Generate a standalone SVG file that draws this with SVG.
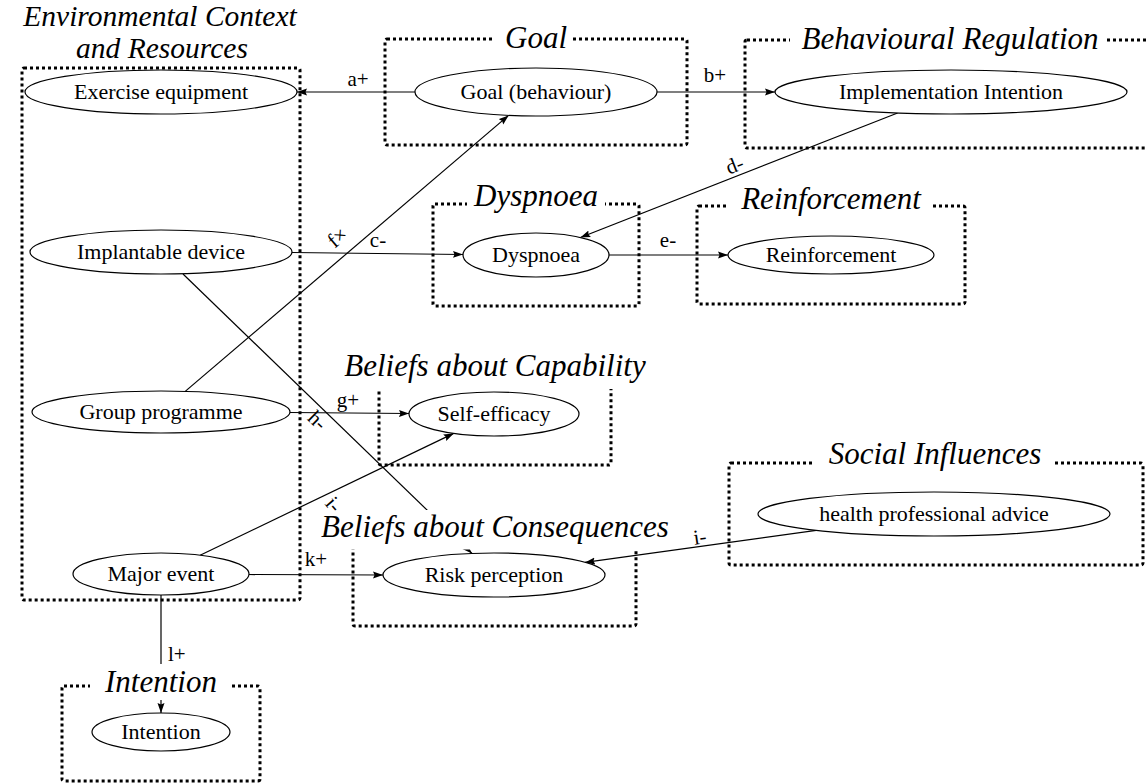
<svg xmlns="http://www.w3.org/2000/svg" width="1147" height="783" viewBox="0 0 1147 783">
<style>
.box{fill:none;stroke:#000;stroke-width:3;stroke-dasharray:3 3;}
.tbg{fill:#fff;stroke:none;}
.node ellipse{fill:#fff;stroke:#000;stroke-width:1.2;}
.edge{fill:none;stroke:#000;stroke-width:1.2;marker-end:url(#arr);}
</style>
<defs>
<marker id="arr" markerUnits="userSpaceOnUse" markerWidth="11" markerHeight="8" refX="10" refY="4" orient="auto">
<path d="M0,0.5 L10,4 L0,7.5 L1.5,4 z" fill="#000"/>
</marker>
</defs>
<rect width="1147" height="783" fill="#fff"/>
<g id="boxes">
<rect class="box" x="22" y="68" width="278" height="532" rx="2"/>
<rect class="box" x="385" y="39" width="302" height="106" rx="2"/>
<rect class="box" x="745" y="40" width="430" height="108" rx="2"/>
<rect class="box" x="433" y="204" width="206" height="102" rx="2"/>
<rect class="box" x="697" y="206" width="268" height="98" rx="2"/>
<rect class="box" x="379" y="376" width="232" height="89" rx="2"/>
<rect class="box" x="729" y="463" width="414" height="102" rx="2"/>
<rect class="box" x="353" y="537" width="283" height="89" rx="2"/>
<rect class="box" x="62" y="686" width="198" height="95" rx="2"/>
</g>
<g id="connectors">
<line class="edge" x1="415" y1="92" x2="297" y2="92"/>
<line class="edge" x1="657" y1="92" x2="775" y2="92"/>
<line class="edge" x1="292" y1="252.5" x2="463" y2="254.5"/>
<line class="edge" x1="897.6" y1="113" x2="580.4" y2="237.5"/>
<line class="edge" x1="609" y1="255" x2="728" y2="255"/>
<line class="edge" x1="185.2" y1="391.4" x2="508.6" y2="115.4"/>
<line class="edge" x1="290" y1="412.5" x2="409" y2="413.5"/>
<line class="edge" x1="183" y1="274" x2="472" y2="553.5"/>
<line class="edge" x1="200.1" y1="555.2" x2="453.7" y2="433.4"/>
<line class="edge" x1="816.2" y1="530.3" x2="585" y2="562.4"/>
<line class="edge" x1="249" y1="574.5" x2="383" y2="575"/>
<line class="edge" x1="161" y1="595" x2="161" y2="713"/>
</g>
<g id="titles" fill="#000" text-anchor="middle">
<text font-family="Liberation Serif" font-style="italic" font-size="29.5" x="160" y="26">Environmental Context</text>
<text font-family="Liberation Serif" font-style="italic" font-size="29.5" x="162" y="58">and Resources</text>
<rect class="tbg" x="495" y="20" width="78" height="32"/>
<text font-family="Liberation Serif" font-style="italic" font-size="31" x="536" y="48">Goal</text>
<rect class="tbg" x="790" y="22" width="315" height="32"/>
<text font-family="Liberation Serif" font-style="italic" font-size="31" x="950" y="49">Behavioural Regulation</text>
<rect class="tbg" x="467" y="182" width="138" height="30"/>
<text font-family="Liberation Serif" font-style="italic" font-size="31" x="536" y="206">Dyspnoea</text>
<rect class="tbg" x="728" y="186" width="202" height="28"/>
<text font-family="Liberation Serif" font-style="italic" font-size="31" x="831" y="209">Reinforcement</text>
<rect class="tbg" x="338" y="350" width="314" height="39"/>
<text font-family="Liberation Serif" font-style="italic" font-size="31" x="495" y="376">Beliefs about Capability</text>
<rect class="tbg" x="813" y="440" width="240" height="30"/>
<text font-family="Liberation Serif" font-style="italic" font-size="31" x="935" y="464">Social Influences</text>
<rect class="tbg" x="318" y="510" width="352" height="39.5"/>
<text font-family="Liberation Serif" font-style="italic" font-size="31" x="495" y="537">Beliefs about Consequences</text>
<rect class="tbg" x="90" y="664" width="140" height="36"/>
<text font-family="Liberation Serif" font-style="italic" font-size="31" x="161" y="692">Intention</text>
</g>
<g id="n-exercise" class="node"><ellipse cx="161" cy="92" rx="136" ry="22"/><text font-family="Liberation Serif" font-size="22" text-anchor="middle" x="161" y="99">Exercise equipment</text></g>
<g id="n-implant" class="node"><ellipse cx="161" cy="252" rx="131" ry="22"/><text font-family="Liberation Serif" font-size="22" text-anchor="middle" x="161" y="259">Implantable device</text></g>
<g id="n-group" class="node"><ellipse cx="161" cy="412" rx="129" ry="21"/><text font-family="Liberation Serif" font-size="22" text-anchor="middle" x="161" y="419">Group programme</text></g>
<g id="n-major" class="node"><ellipse cx="161" cy="574" rx="88" ry="21"/><text font-family="Liberation Serif" font-size="22" text-anchor="middle" x="161" y="581">Major event</text></g>
<g id="n-goal" class="node"><ellipse cx="536" cy="92" rx="121" ry="24"/><text font-family="Liberation Serif" font-size="22" text-anchor="middle" x="536" y="99">Goal (behaviour)</text></g>
<g id="n-impl" class="node"><ellipse cx="951" cy="92" rx="176" ry="22"/><text font-family="Liberation Serif" font-size="22" text-anchor="middle" x="951" y="99">Implementation Intention</text></g>
<g id="n-dysp" class="node"><ellipse cx="536" cy="255" rx="73" ry="22"/><text font-family="Liberation Serif" font-size="22" text-anchor="middle" x="536" y="262">Dyspnoea</text></g>
<g id="n-reinf" class="node"><ellipse cx="831" cy="255" rx="103" ry="19"/><text font-family="Liberation Serif" font-size="22" text-anchor="middle" x="831" y="262">Reinforcement</text></g>
<g id="n-self" class="node"><ellipse cx="494" cy="414" rx="85" ry="22"/><text font-family="Liberation Serif" font-size="22" text-anchor="middle" x="494" y="421">Self-efficacy</text></g>
<g id="n-health" class="node"><ellipse cx="934" cy="514" rx="176" ry="22"/><text font-family="Liberation Serif" font-size="22" text-anchor="middle" x="934" y="521">health professional advice</text></g>
<g id="n-risk" class="node"><ellipse cx="494" cy="575" rx="111" ry="22"/><text font-family="Liberation Serif" font-size="22" text-anchor="middle" x="494" y="582">Risk perception</text></g>
<g id="n-intention" class="node"><ellipse cx="161" cy="732" rx="69" ry="19"/><text font-family="Liberation Serif" font-size="22" text-anchor="middle" x="161" y="739">Intention</text></g>
<g id="labels" fill="#000" text-anchor="middle">
<text font-family="Liberation Serif" font-size="21" x="358" y="86">a+</text>
<text font-family="Liberation Serif" font-size="21" x="715" y="82">b+</text>
<text font-family="Liberation Serif" font-size="21" x="378" y="247">c-</text>
<text font-family="Liberation Serif" font-size="21" x="735" y="172" transform="rotate(-21.5 735 166)">d-</text>
<text font-family="Liberation Serif" font-size="21" x="668" y="247">e-</text>
<text font-family="Liberation Serif" font-size="21" x="338" y="244" transform="rotate(-40.7 338 238)">f×</text>
<text font-family="Liberation Serif" font-size="21" x="348" y="407">g+</text>
<text font-family="Liberation Serif" font-size="21" x="317" y="427" transform="rotate(44 317 421)">h-</text>
<text font-family="Liberation Serif" font-size="21" x="333" y="511" transform="rotate(50 333 505)">i-</text>
<text font-family="Liberation Serif" font-size="21" x="700" y="544" transform="rotate(-8 700 538)">i-</text>
<text font-family="Liberation Serif" font-size="21" x="316" y="566">k+</text>
<text font-family="Liberation Serif" font-size="21" x="168" y="661" text-anchor="start">l+</text>
</g>
</svg>
